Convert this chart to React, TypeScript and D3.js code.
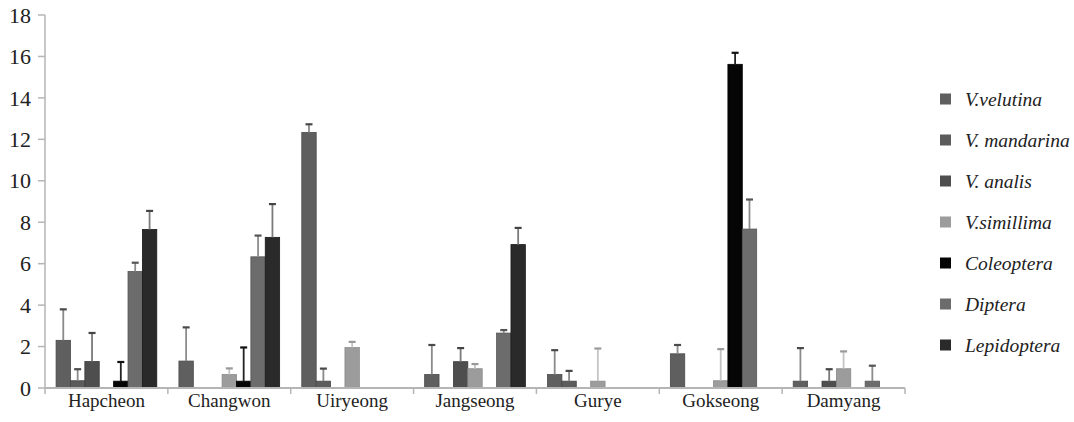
import React from 'react';
import * as d3 from 'd3';

const categories = ['Hapcheon', 'Changwon', 'Uiryeong', 'Jangseong', 'Gurye', 'Gokseong', 'Damyang'];
const seriesNames = ['V.velutina', 'V. mandarina', 'V. analis', 'V.simillima', 'Coleoptera', 'Diptera', 'Lepidoptera'];

const velutina = [2.3, 1.3, 12.33, 0.65, 0.65, 1.65, 0.33];
const velutinaErr = [1.52, 1.65, 0.42, 1.45, 1.2, 0.45, 1.62];
const mandarina = [0.35, 0, 0.33, 0, 0.33, 0, 0];
const mandarinaErr = [0.58, 0, 0.63, 0, 0.52, 0, 0];
const analis = [1.28, 0, 0, 1.27, 0, 0, 0.33];
const analisErr = [1.4, 0, 0, 0.68, 0, 0, 0.6];
const simillima = [0, 0.65, 1.95, 0.93, 0.33, 0.35, 0.93];
const simillimaErr = [0, 0.32, 0.3, 0.25, 1.6, 1.55, 0.86];
const coleoptera = [0.33, 0.33, 0, 0, 0, 15.62, 0];
const coleopteraErr = [0.95, 1.65, 0, 0, 0, 0.58, 0];
const diptera = [5.62, 6.33, 0, 2.65, 0, 7.67, 0.33];
const dipteraErr = [0.45, 1.05, 0, 0.17, 0, 1.45, 0.77];
const lepidoptera = [7.65, 7.27, 0, 6.92, 0, 0, 0];
const lepidopteraErr = [0.92, 1.63, 0, 0.83, 0, 0, 0];

const yTicks = [0, 2, 4, 6, 8, 10, 12, 14, 16, 18];

const seriesValues = [velutina, mandarina, analis, simillima, coleoptera, diptera, lepidoptera];
const seriesErrors = [velutinaErr, mandarinaErr, analisErr, simillimaErr, coleopteraErr, dipteraErr, lepidopteraErr];

const fills = ['#5f5f5f', '#5c5c5c', '#4e4e4e', '#9c9c9c', '#050505', '#6c6c6c', '#2a2a2a'];
const strokes = ['#4a4a4a', '#474747', '#3c3c3c', '#8a8a8a', '#000000', '#565656', '#1a1a1a'];
const errColors = ['#8a8a8a', '#8a8a8a', '#7a7a7a', '#c4c4c4', '#222222', '#8c8c8c', '#7c7c7c'];
const capColors = ['#4a4a4a', '#4a4a4a', '#444444', '#9a9a9a', '#111111', '#555555', '#444444'];

const W = 1074;
const H = 422;
const X0 = 45;
const X1 = 905;
const Y0 = 388;
const Y1 = 15;

const serif = "'Liberation Serif', 'Tinos', 'Times New Roman', 'Noto Serif', 'FreeSerif', 'Nimbus Roman', 'DejaVu Serif', serif";

export default function App() {
  const x = d3.scaleBand<string>().domain(categories).range([X0, X1]).paddingInner(0).paddingOuter(0);
  const xi = d3.scaleBand<string>().domain(seriesNames).range([0, x.bandwidth()]).paddingInner(0).paddingOuter(0.77);
  const y = d3.scaleLinear().domain([0, 18]).range([Y0, Y1]);
  const boundaries = categories.map((c) => x(c) as number).concat([X1]);
  const legendY = d3.scalePoint<string>().domain(seriesNames).range([99, 345]);

  return (
    <svg width={W} height={H} style={{ position: 'absolute', left: 0, top: 0, background: '#fff', fontFamily: serif }} xmlns="http://www.w3.org/2000/svg">
      <rect x={0} y={0} width={W} height={H} fill="#fff" />
      {/* y axis */}
      <line x1={X0} x2={X0} y1={Y1} y2={Y0} stroke="#b5b5b5" strokeWidth={1.5} />
      {yTicks.map((t) => (
        <g key={t}>
          <line x1={X0 - 7} x2={X0} y1={y(t)} y2={y(t)} stroke="#b5b5b5" strokeWidth={1.5} />
          <text x={31} y={y(t)} dy="0.35em" textAnchor="end" style={{ fontFamily: serif, fontSize: 22 }} fill="#222">{t}</text>
        </g>
      ))}
      {/* bars */}
      {categories.map((c, ci) => (
        <g key={c}>
          {seriesNames.map((s, si) => {
            const v = seriesValues[si][ci];
            if (!v) return null;
            const bx = (x(c) as number) + (xi(s) as number);
            const bw = xi.bandwidth();
            return (
              <rect key={s} x={bx} y={y(v)} width={bw} height={Y0 - y(v)} fill={fills[si]} stroke={strokes[si]} strokeWidth={0.8} />
            );
          })}
          {seriesNames.map((s, si) => {
            const v = seriesValues[si][ci];
            const e = seriesErrors[si][ci];
            if (!v || !e) return null;
            const cx = (x(c) as number) + (xi(s) as number) + xi.bandwidth() / 2;
            return (
              <g key={s + 'e'}>
                <line x1={cx} x2={cx} y1={y(v)} y2={y(v + e)} stroke={errColors[si]} strokeWidth={1.8} />
                <line x1={cx - 3.5} x2={cx + 3.5} y1={y(v + e) + 0.5} y2={y(v + e) + 0.5} stroke={capColors[si]} strokeWidth={2.2} />
              </g>
            );
          })}
        </g>
      ))}
      {/* x axis */}
      <line x1={X0} x2={X1} y1={Y0} y2={Y0} stroke="#b5b5b5" strokeWidth={1.8} />
      {boundaries.map((b, i) => (
        <line key={i} x1={b} x2={b} y1={Y0} y2={Y0 + 6} stroke="#b5b5b5" strokeWidth={1.5} />
      ))}
      {categories.map((c) => (
        <text key={c} x={(x(c) as number) + x.bandwidth() / 2} y={407} textAnchor="middle" style={{ fontFamily: serif, fontSize: 19 }} fill="#222">{c}</text>
      ))}
      {/* legend */}
      {seriesNames.map((s, si) => (
        <g key={s}>
          <rect x={940} y={(legendY(s) as number) - 5.5} width={11} height={11} fill={fills[si]} />
          <text x={965} y={legendY(s) as number} dy="0.35em" style={{ fontFamily: serif, fontStyle: 'italic', fontSize: 19.5 }} fill="#222">{s}</text>
        </g>
      ))}
    </svg>
  );
}
